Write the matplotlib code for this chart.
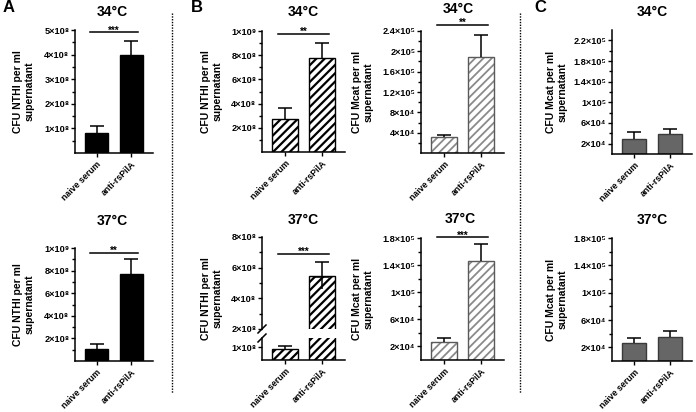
import matplotlib
matplotlib.use('Agg')
import matplotlib.pyplot as plt
from matplotlib.lines import Line2D

plt.rcParams['font.family'] = ['Liberation Sans', 'DejaVu Sans']
plt.rcParams['font.weight'] = 'bold'
plt.rcParams['axes.linewidth'] = 1.1

W, H = 696, 412

groups = ['naive serum', 'anti-rsPilA']

# panel A: NTHI, non-hatched
a34_mean = [0.8e8, 4.0e8]
a34_err = [0.3e8, 0.55e8]
a37_mean = [1.1e8, 7.7e8]
a37_err = [0.4e8, 1.3e8]

# panel B: NTHI (black hatch) and Mcat (grey hatch)
b_nthi34_mean = [2.75e8, 7.8e8]
b_nthi34_err = [0.85e8, 1.2e8]
b_nthi37_mean = [0.85e8, 5.45e8]
b_nthi37_err = [0.22e8, 0.95e8]
b_mcat34_mean = [3.2e4, 1.88e5]
b_mcat34_err = [0.4e4, 0.45e5]
b_mcat37_mean = [2.7e4, 1.46e5]
b_mcat37_err = [0.5e4, 0.25e5]

# panel C: Mcat, grey bars
c_mcat34_mean = [3.0e4, 3.9e4]
c_mcat34_err = [1.2e4, 1.0e4]
c_mcat37_mean = [2.7e4, 3.55e4]
c_mcat37_err = [0.7e4, 0.85e4]

sig_labels = {'a34': '***', 'a37': '**', 'b34': '**', 'b37': '***', 'bm34': '**', 'bm37': '***'}
sig_heights = {'a34': 4.9e8, 'a37': 9.6e8, 'b34': 9.75e8, 'b37': 6.9e8, 'bm34': 2.52e5, 'bm37': 1.81e5}

SUP = str.maketrans('0123456789', '⁰¹²³⁴⁵⁶⁷⁸⁹')


def sci(v):
    exp = 0
    m = v
    while m >= 10:
        m /= 10
        exp += 1
    ms = ('%.1f' % m).rstrip('0').rstrip('.')
    return ms + '×10' + str(exp).translate(SUP)


fig = plt.figure(figsize=(W / 100, H / 100), dpi=100)


def add_ax(x0, y0, x1, y1):
    return fig.add_axes([x0 / W, 1 - y1 / H, (x1 - x0) / W, (y1 - y0) / H])


def style_ax(ax, ylim, major, minor, xaxis=True):
    ax.set_xlim(-0.62, 1.62)
    ax.set_ylim(*ylim)
    ax.spines['top'].set_visible(False)
    ax.spines['right'].set_visible(False)
    ax.set_yticks(major)
    ax.set_yticklabels([sci(v) for v in major], fontsize=6.6)
    ax.set_yticks(minor, minor=True)
    ax.tick_params(axis='y', which='major', length=3, width=1, pad=1)
    ax.tick_params(axis='y', which='minor', length=2, width=1)
    if xaxis:
        ax.set_xticks([0, 1])
        ax.set_xticklabels(groups, rotation=45, ha='right', rotation_mode='anchor', fontsize=6.3)
        ax.tick_params(axis='x', length=3, width=1, pad=2)
    else:
        ax.spines['bottom'].set_visible(False)
        ax.set_xticks([])


def bars(ax, mean, err, kind):
    x = [0, 1]
    if kind == 'black':
        ax.bar(x, mean, width=0.68, color='black', edgecolor='black', linewidth=1)
    elif kind == 'hatch_black':
        with plt.rc_context({'hatch.linewidth': 1.6}):
            ax.bar(x, mean, width=0.68, color='white', edgecolor='black', hatch='////', linewidth=1)
    elif kind == 'hatch_grey':
        with plt.rc_context({'hatch.linewidth': 1.3}):
            ax.bar(x, mean, width=0.68, color='white', edgecolor='#8a8a8a', hatch='////', linewidth=0)
        ax.bar(x, mean, width=0.68, fill=False, edgecolor='#5a5a5a', linewidth=1)
    else:
        ax.bar(x, mean, width=0.68, color='#666666', edgecolor='#3a3a3a', linewidth=1)
    tops = [m + e for m, e in zip(mean, err)]
    ax.vlines(x, mean, tops, color='black', linewidth=1.1, clip_on=False)
    ax.hlines(tops, [xi - 0.2 for xi in x], [xi + 0.2 for xi in x], color='black', linewidth=1.1, clip_on=False)


def sig(ax, key):
    y = sig_heights[key]
    ax.plot([-0.2, 1.2], [y, y], color='black', linewidth=1.1, clip_on=False)
    ax.annotate(sig_labels[key], (0.5, y), xytext=(0, -0.8), textcoords='offset points',
                ha='center', va='baseline', fontsize=7, annotation_clip=False)


def ylabel(xc, y0, y1, organism):
    fig.text(xc / W, 1 - (y0 + y1) / 2 / H, 'CFU %s per ml\nsupernatant' % organism,
             rotation=90, ha='center', va='center', fontsize=7.5, multialignment='center')


def title(xc, yc, txt):
    fig.text(xc / W, 1 - yc / H, txt, ha='center', va='center', fontsize=10)


# ---- panel A ----
ax = add_ax(75, 30, 153, 153)
bars(ax, a34_mean, a34_err, 'black')
style_ax(ax, (0, 5e8), [1e8, 2e8, 3e8, 4e8, 5e8], [0.5e8, 1.5e8, 2.5e8, 3.5e8, 4.5e8])
sig(ax, 'a34')
ylabel(24, 30, 153, 'NTHI')
title(112, 12, '34°C')

ax = add_ax(75, 248, 153, 361)
bars(ax, a37_mean, a37_err, 'black')
style_ax(ax, (0, 1e9), [2e8, 4e8, 6e8, 8e8, 1e9], [1e8, 3e8, 5e8, 7e8, 9e8])
sig(ax, 'a37')
ylabel(24, 248, 361, 'NTHI')
title(112, 221, '37°C')

# ---- panel B, NTHI ----
ax = add_ax(262, 31, 345, 152)
bars(ax, b_nthi34_mean, b_nthi34_err, 'hatch_black')
style_ax(ax, (0, 1e9), [2e8, 4e8, 6e8, 8e8, 1e9], [1e8, 3e8, 5e8, 7e8, 9e8])
sig(ax, 'b34')
ylabel(212, 31, 152, 'NTHI')
title(303, 12, '34°C')

# broken axis: upper and lower part
ax_up = add_ax(262, 237, 345, 329)
bars(ax_up, b_nthi37_mean, b_nthi37_err, 'hatch_black')
style_ax(ax_up, (2e8, 8e8), [2e8, 4e8, 6e8, 8e8], [3e8, 5e8, 7e8], xaxis=False)
sig(ax_up, 'b37')
ax_lo = add_ax(262, 338, 345, 360)
bars(ax_lo, b_nthi37_mean, b_nthi37_err, 'hatch_black')
style_ax(ax_lo, (0, 1.7e8), [1e8], [])
for yy in (329, 338):
    fig.add_artist(Line2D([258 / W, 266 / W], [1 - (yy + 4) / H, 1 - (yy - 4) / H],
                          color='black', linewidth=1.1))
ylabel(212, 237, 360, 'NTHI')
title(303, 220, '37°C')

# ---- panel B, Mcat ----
ax = add_ax(421, 31, 504, 153)
bars(ax, b_mcat34_mean, b_mcat34_err, 'hatch_grey')
style_ax(ax, (0, 2.4e5), [4e4, 8e4, 1.2e5, 1.6e5, 2e5, 2.4e5],
         [2e4, 6e4, 1e5, 1.4e5, 1.8e5, 2.2e5])
sig(ax, 'bm34')
ylabel(363, 31, 153, 'Mcat')
title(458, 9, '34°C')

ax = add_ax(421, 238, 504, 360)
bars(ax, b_mcat37_mean, b_mcat37_err, 'hatch_grey')
style_ax(ax, (0, 1.8e5), [2e4, 6e4, 1e5, 1.4e5, 1.8e5], [4e4, 8e4, 1.2e5, 1.6e5])
sig(ax, 'bm37')
ylabel(363, 238, 360, 'Mcat')
title(460, 219, '37°C')

# ---- panel C ----
ax = add_ax(612, 30, 692, 154)
bars(ax, c_mcat34_mean, c_mcat34_err, 'grey')
style_ax(ax, (0, 2.4e5), [2e4, 6e4, 1e5, 1.4e5, 1.8e5, 2.2e5],
         [4e4, 8e4, 1.2e5, 1.6e5, 2e5])
ylabel(557, 30, 154, 'Mcat')
title(652, 12, '34°C')

ax = add_ax(612, 238, 692, 361)
bars(ax, c_mcat37_mean, c_mcat37_err, 'grey')
style_ax(ax, (0, 1.8e5), [2e4, 6e4, 1e5, 1.4e5, 1.8e5], [4e4, 8e4, 1.2e5, 1.6e5])
ylabel(557, 238, 361, 'Mcat')
title(652, 220, '37°C')

# panel letters and separators
for lx, letter in [(9, 'A'), (197, 'B'), (540, 'C')]:
    fig.text(lx / W, 1 - 8 / H, letter, ha='center', va='center', fontsize=12)
for sx in (172, 520):
    fig.add_artist(Line2D([sx / W, sx / W], [1 - 13 / H, 1 - 393 / H], color='black',
                          linewidth=1, linestyle=(0, (1, 1))))

fig.savefig('out.png', dpi=100)
